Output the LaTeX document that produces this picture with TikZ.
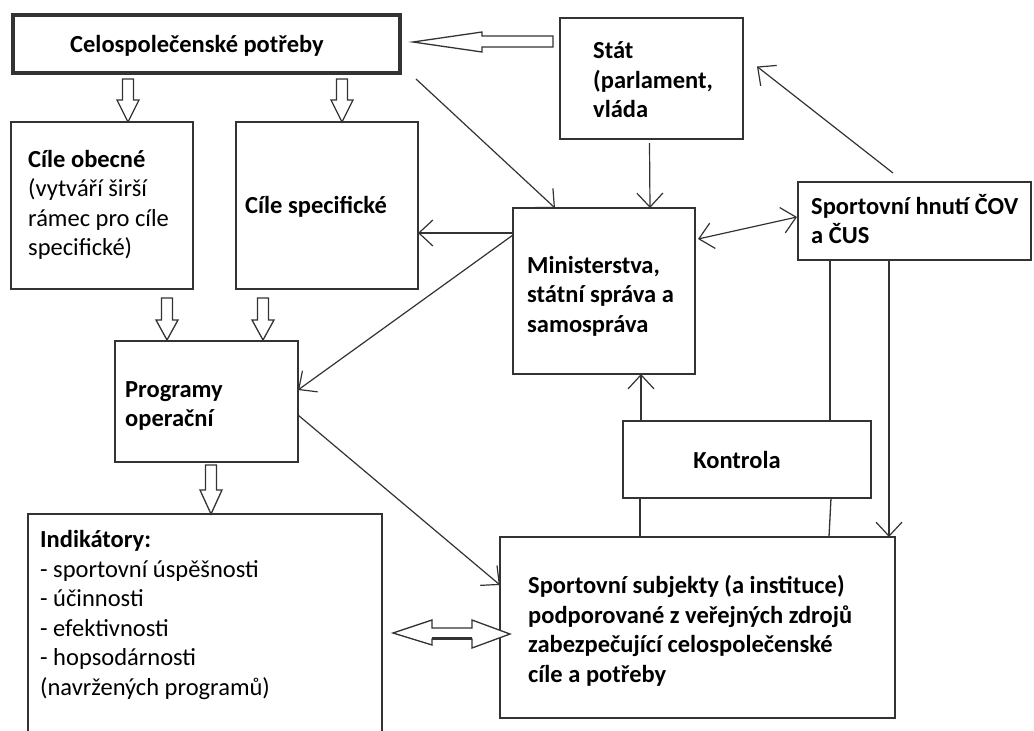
\documentclass[tikz,border=0pt]{standalone}
\usepackage{fontspec}
\setmainfont{Carlito}
\usetikzlibrary{arrows.meta,calc}
\definecolor{linec}{HTML}{333333}
\newcommand\diagfont{\fontsize{24.5}{29.5}\selectfont}
\newcommand\hdown[4]{\draw[hol] (#1-5.5,#2) -- (#1+5.5,#2) -- (#1+5.5,#3) -- (#1+11,#3) -- (#1,#4) -- (#1-11,#3) -- (#1-5.5,#3) -- cycle;}
\begin{document}
\begin{tikzpicture}[x=1pt,y=-1pt,
  box/.style={draw=linec, line width=1.5pt, anchor=north west, inner sep=0pt, outer sep=0pt},
  txt/.style={inner sep=0pt, align=left, font=\diagfont, text=black},
  arr/.style={draw=linec, line width=1.2pt, -{Straight Barb[length=14pt,width=26pt]}},
  lin/.style={draw=linec, line width=1.3pt},
  hol/.style={draw=linec, line width=1.3pt, fill=white, line join=miter}]
\clip (0,0) rectangle (1034,731);
\fill[white] (0,0) rectangle (1034,731);

% boxes
\node[box, line width=4pt, minimum width=387pt, minimum height=58pt] (celo) at (13,15) {};
\node[box, minimum width=183pt, minimum height=121pt] (stat) at (560,18) {};
\node[box, minimum width=182pt, minimum height=167pt] (cob) at (11,122) {};
\node[box, minimum width=182pt, minimum height=167pt] (csp) at (236,122) {};
\node[box, minimum width=182pt, minimum height=166pt] (min) at (513,208) {};
\node[box, minimum width=233pt, minimum height=78pt] (shn) at (798,182) {};
\node[box, minimum width=183pt, minimum height=121pt] (prog) at (115,341) {};
\node[box, minimum width=248pt, minimum height=77pt] (kon) at (623,421) {};
\node[box, minimum width=354pt, minimum height=240pt] (ind) at (28,514) {};
\node[box, minimum width=395pt, minimum height=181pt] (sub) at (500,537) {};

% texts
\node[txt, anchor=west] (celot) at (70,46) {\textbf{Celospolečenské potřeby}};
\node[txt, anchor=west] (statt) at (593,80) {\textbf{Stát}\\\textbf{(parlament,}\\\textbf{vláda}};
\node[txt, anchor=west] (cobt) at (28,205) {\textbf{Cíle obecné}\\(vytváří širší\\rámec pro cíle\\specifické)};
\node[txt, anchor=west] (cspt) at (245,207) {\textbf{Cíle specifické}};
\node[txt, anchor=west] (mint) at (527,296) {\textbf{Ministerstva,}\\\textbf{státní správa a}\\\textbf{samospráva}};
\node[txt, anchor=west] (shnt) at (811,219) {\textbf{Sportovní hnutí ČOV}\\\textbf{a ČUS}};
\node[txt, anchor=west] (progt) at (125,406) {\textbf{Programy}\\\textbf{operační}};
\node[txt] (kont) at (737,460) {\textbf{Kontrola}};
\node[txt, anchor=west] (indt) at (40,615) {\textbf{Indikátory:}\\- sportovní úspěšnosti\\- účinnosti\\- efektivnosti\\- hopsodárnosti\\(navržených programů)};
\node[txt, anchor=west] (subt) at (528,631) {\textbf{Sportovní subjekty (a instituce)}\\\textbf{podporované z veřejných zdrojů}\\\textbf{zabezpečující celospolečenské}\\\textbf{cíle a potřeby}};

% hollow block arrows
\draw[hol] (553,36) -- (482,36) -- (482,32) -- (413,42) -- (482,52) -- (482,47) -- (553,47) -- cycle;
\hdown{128}{79}{100}{122}
\hdown{342}{79}{100}{122}
\hdown{167}{298}{320}{340}
\hdown{263}{298}{320}{340}
\hdown{211}{465}{490}{514}
\draw[hol] (393,633) -- (432,620) -- (432,628) -- (472,628) -- (472,620) -- (510,634) -- (472,648) -- (472,639) -- (432,639) -- (432,645) -- cycle;
\draw[linec, line width=2.6pt] (432,638.5) -- (472,638.5);

% thin connectors
\draw[arr] ($(celo.south east)+(16,6)$) -- ($(min.north west)+(42,0)$);
\draw[arr] ($(stat.south)+(-2,4)$) -- ($(min.north west)+(137,0)$);
\draw[arr] ($(shn.north west)+(95,-9)$) -- ($(stat.east)+(14,-12)$);
\draw[arr, {Straight Barb[length=14pt,width=26pt]}-{Straight Barb[length=14pt,width=26pt]}] ($(min.east)+(3,-52)$) -- ($(shn.west)+(-1,-4)$);
\coordinate (m1) at ($(min.north west)+(0,25)$);
\draw[arr] (m1) -- (m1 -| csp.east);
\draw[arr] ($(min.north west)+(0,27)$) -- ($(prog.east)+(0,-11.5)$);
\draw[arr] ($(prog.east)+(0,13.5)$) -- ($(sub.north west)+(0,48)$);
\coordinate (k1) at ($(kon.north west)+(18,0)$);
\draw[arr] (k1) -- (k1 |- min.south);
\coordinate (s1) at ($(shn.south west)+(32,0)$);
\draw[lin] (s1) -- (s1 |- kon.north);
\coordinate (k2) at ($(kon.south west)+(17,0)$);
\draw[lin] (k2) -- (k2 |- sub.north);
\draw[lin] ($(kon.south west)+(208,0)$) -- ($(sub.north west)+(329,0)$);
\coordinate (s2) at ($(shn.south west)+(91,0)$);
\draw[arr] (s2) -- (s2 |- sub.north);
\end{tikzpicture}
\end{document}
